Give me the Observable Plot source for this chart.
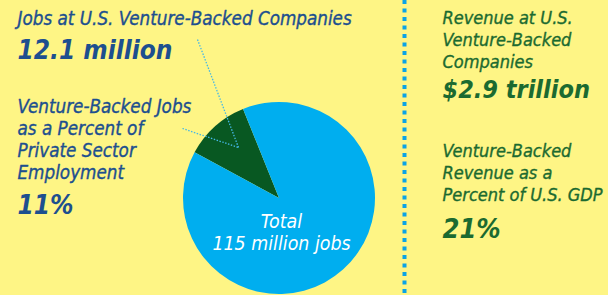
<!DOCTYPE html>
<html>
<head>
<meta charset="utf-8">
<script src="https://cdn.jsdelivr.net/npm/d3@7"></script>
<script src="https://cdn.jsdelivr.net/npm/@observablehq/plot@0.6"></script>
<style>
  html, body { margin: 0; padding: 0; background: #fef585; }
  #chart svg { display: block; }
</style>
</head>
<body>
<div id="chart"></div>
<script>
// ---- data ----
const pieLabels = ["Venture-backed jobs", "Other private sector jobs"];
const pieShares = [11, 89];
const pieColors = ["#085822", "#00aeef"];

const leftTitle = ["Jobs at U.S. Venture-Backed Companies"];
const leftTitleValue = ["12.1 million"];
const leftSub = ["Venture-Backed Jobs", "as a Percent of", "Private Sector", "Employment"];
const leftSubValue = ["11%"];
const pieText = ["Total", "115 million jobs"];
const rightTop = ["Revenue at U.S.", "Venture-Backed", "Companies"];
const rightTopValue = ["$2.9 trillion"];
const rightBottom = ["Venture-Backed", "Revenue as a", "Percent of U.S. GDP"];
const rightBottomValue = ["21%"];

// ---- layout ----
const W = 608, H = 295;
const FONT = "'DejaVu Sans Condensed', 'Liberation Sans Narrow', sans-serif";
const blueText = "#1d4f8f";
const greenText = "#1b6a30";
const pieCenter = {x: 279, y: 198, r: 96};
const pieStart = -61.6 * Math.PI / 180;

function lines(arr, x, y0, step) {
  return arr.map((t, i) => ({t, x, y: y0 + i * step}));
}

const pieMark = (index, scales, values, dims, context) => {
  const cx = scales.x(pieCenter.x), cy = scales.y(pieCenter.y);
  const r = scales.x(pieCenter.x + pieCenter.r) - cx;
  const arcs = d3.pie().sort(null).startAngle(pieStart).endAngle(pieStart + 2 * Math.PI)(pieShares);
  const arc = d3.arc().innerRadius(0).outerRadius(r);
  const g = d3.create("svg:g").attr("transform", `translate(${cx},${cy})`);
  g.selectAll("path").data(arcs).join("path")
    .attr("d", arc)
    .attr("fill", (d, i) => pieColors[i])
    .append("title").text((d, i) => `${pieLabels[i]}: ${pieShares[i]}%`);
  return g.node();
};

const leaders = [
  {x1: 197, y1: 39, x2: 238, y2: 147},
  {x1: 182, y1: 128, x2: 238, y2: 147}
];

const textOpts = (fill, size, weight) => ({
  x: "x", y: "y", text: "t", textAnchor: "start", lineAnchor: "bottom",
  fill, stroke: fill, strokeWidth: weight === "bold" ? 0 : 0.35,
  fontSize: size, fontWeight: weight, fontStyle: "italic", fontFamily: FONT
});

const chart = Plot.plot({
  width: W, height: H, margin: 0,
  x: {domain: [0, W], range: [0, W], axis: null},
  y: {domain: [0, H], range: [0, H], axis: null},
  style: {background: "#fef585", overflow: "visible"},
  marks: [
    pieMark,
    Plot.link(leaders, {x1: "x1", y1: "y1", x2: "x2", y2: "y2", stroke: "#45b8e6", strokeWidth: 1.3, strokeDasharray: "1.5,1.5"}),
    Plot.ruleX([404], {y1: 0, y2: H, stroke: "#0aa3e6", strokeWidth: 4, strokeDasharray: "4,4.5"}),
    Plot.text(lines(leftTitle, 17, 24, 0), textOpts(blueText, 18.7, "normal")),
    Plot.text(lines(leftTitleValue, 17, 58, 0), textOpts(blueText, 26, "bold")),
    Plot.text(lines(leftSub, 17, 112, 22), textOpts(blueText, 18.7, "normal")),
    Plot.text(lines(leftSubValue, 17, 213, 0), textOpts(blueText, 26, "bold")),
    Plot.text(lines(pieText, 281, 227, 22), {x: "x", y: "y", text: "t", textAnchor: "middle", lineAnchor: "bottom", fill: "white", fontSize: 19.4, fontStyle: "italic", fontFamily: FONT}),
    Plot.text(lines(rightTop, 442, 23, 22), textOpts(greenText, 18, "normal")),
    Plot.text(lines(rightTopValue, 442, 97, 0), textOpts(greenText, 25, "bold")),
    Plot.text(lines(rightBottom, 442, 156, 22), textOpts(greenText, 18, "normal")),
    Plot.text(lines(rightBottomValue, 442, 237, 0), textOpts(greenText, 27, "bold"))
  ]
});
document.getElementById("chart").append(chart);
</script>
</body>
</html>
